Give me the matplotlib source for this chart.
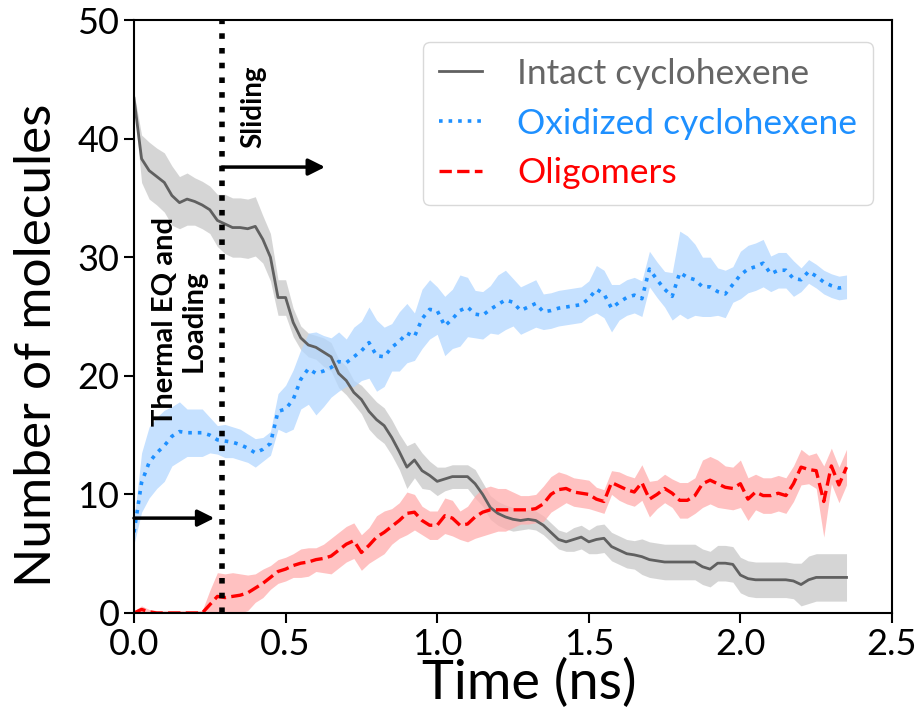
import numpy as np
import matplotlib
matplotlib.use("Agg")
import matplotlib.pyplot as plt

plt.rcParams['font.family'] = ['Lato', 'DejaVu Sans']

# time axis, ns (sampled every 0.025 ns)
time_ns = np.linspace(0.0, 2.35, 95)

intact = [43.4, 38.3, 37.3, 36.8, 36.3, 35.2, 34.6, 34.9, 34.7, 34.4,
          34.0, 33.1, 32.8, 32.5, 32.5, 32.4, 32.6, 31.5, 30.0, 26.6,
          26.6, 24.5, 23.2, 22.6, 22.4, 22.0, 21.6, 20.2, 19.6, 18.6,
          18.0, 17.0, 16.3, 15.8, 14.8, 13.6, 12.3, 12.9, 12.0, 11.6,
          11.1, 11.3, 11.5, 11.5, 11.5, 10.9, 10.0, 8.9, 8.4, 8.1,
          7.9, 7.8, 7.9, 7.8, 7.4, 6.8, 6.2, 6.0, 6.2, 6.4,
          6.0, 6.2, 6.3, 5.6, 5.3, 5.0, 4.9, 4.75, 4.5, 4.4,
          4.3, 4.3, 4.3, 4.3, 4.3, 3.9, 3.7, 4.2, 4.2, 4.1,
          3.2, 2.9, 2.8, 2.8, 2.8, 2.8, 2.8, 2.7, 2.4, 2.8,
          3.0, 3.0, 3.0, 3.0, 3.0]
intact_sd = [0.5, 2.0, 2.4, 2.4, 2.5, 2.5, 2.2, 2.2, 2.0, 2.0,
             2.0, 2.2, 2.5, 2.5, 2.5, 2.5, 2.5, 2.0, 2.0, 1.5,
             1.5, 1.2, 1.0, 1.0, 1.0, 1.2, 1.2, 1.2, 1.2, 1.0,
             1.2, 1.5, 1.5, 1.5, 1.5, 1.5, 1.8, 1.5, 1.5, 1.2,
             1.2, 1.0, 1.0, 1.0, 1.0, 1.2, 1.0, 1.0, 1.0, 1.0,
             1.0, 0.8, 0.8, 0.8, 0.8, 0.8, 0.8, 0.8, 1.0, 1.0,
             1.0, 1.2, 1.2, 1.2, 1.2, 1.2, 1.2, 1.5, 1.5, 1.5,
             1.5, 1.5, 1.5, 1.5, 1.5, 1.5, 1.5, 1.5, 1.5, 1.5,
             1.5, 1.5, 1.5, 1.5, 1.5, 1.5, 1.5, 1.5, 1.8, 2.0,
             2.0, 2.0, 2.0, 2.0, 2.0]

oxidized = [6.8, 11.0, 12.7, 13.5, 14.1, 14.9, 15.3, 15.2, 15.2, 15.2,
            15.0, 14.6, 14.5, 14.4, 14.2, 13.9, 13.5, 13.8, 14.3, 17.0,
            17.2, 18.0, 19.7, 20.6, 20.2, 20.4, 20.7, 21.2, 21.1, 21.6,
            22.1, 22.8, 21.7, 21.6, 22.4, 22.9, 23.6, 23.3, 24.8, 25.6,
            25.5, 24.2, 24.8, 25.5, 25.8, 25.2, 25.1, 25.6, 26.0, 26.4,
            26.2, 25.5, 25.8, 26.1, 25.4, 25.5, 25.7, 25.8, 25.9, 26.0,
            26.5, 27.3, 26.9, 25.7, 26.2, 26.6, 26.8, 26.5, 29.0, 28.1,
            27.3, 26.7, 28.7, 28.3, 28.1, 27.5, 27.5, 27.1, 26.9, 27.7,
            28.5, 29.0, 29.2, 29.5, 28.6, 28.9, 28.9, 28.2, 28.1, 28.8,
            28.4, 27.9, 27.6, 27.4, 27.5]
oxidized_sd = [1.0, 2.5, 3.0, 3.0, 3.0, 2.5, 2.5, 2.0, 2.0, 2.0,
               1.5, 1.2, 1.4, 1.3, 1.3, 1.2, 1.2, 1.0, 1.0, 1.5,
               2.0, 2.5, 2.5, 3.0, 3.5, 3.0, 2.5, 2.5, 2.0, 2.5,
               2.5, 3.0, 3.0, 2.5, 2.0, 2.5, 2.5, 2.0, 2.5, 2.5,
               2.0, 2.5, 2.5, 3.0, 2.5, 2.0, 2.0, 2.0, 2.5, 2.5,
               2.0, 2.0, 2.0, 2.0, 1.5, 1.5, 1.5, 1.5, 1.5, 1.5,
               1.5, 2.0, 2.0, 2.0, 1.5, 1.5, 1.5, 1.5, 1.5, 1.5,
               1.5, 2.0, 3.5, 3.5, 3.0, 2.5, 2.5, 2.0, 2.0, 1.5,
               2.0, 2.0, 2.0, 2.0, 1.5, 1.5, 1.5, 1.5, 1.0, 1.0,
               1.0, 1.0, 1.0, 1.0, 1.0]

oligomers = [0.0, 0.3, 0.1, 0.0, 0.0, 0.0, 0.0, 0.0, 0.0, 0.0,
             0.7, 1.4, 1.3, 1.4, 1.5, 1.7, 2.1, 2.5, 3.0, 3.5,
             3.7, 4.0, 4.2, 4.3, 4.5, 4.6, 4.8, 5.3, 5.8, 6.1,
             5.1, 5.7, 6.4, 6.8, 7.3, 7.8, 8.4, 8.5, 7.8, 7.4,
             7.4, 8.2, 8.0, 7.4, 7.5, 8.1, 8.5, 8.7, 8.7, 8.7,
             8.7, 8.7, 8.7, 8.8, 9.2, 10.0, 10.4, 10.5, 10.2, 10.1,
             10.0, 9.6, 9.4, 11.0, 10.7, 10.4, 10.2, 11.0, 9.6, 10.0,
             10.5, 10.1, 9.5, 9.5, 9.9, 10.9, 11.2, 10.9, 10.6, 10.5,
             10.9, 9.6, 10.2, 9.9, 9.9, 10.1, 9.9, 10.9, 12.3, 12.1,
             12.0, 9.4, 12.4, 10.8, 12.3]
oligomers_sd = [0.2, 0.3, 0.2, 0.2, 0.2, 0.2, 0.2, 0.2, 0.2, 0.2,
                1.2, 2.0, 2.0, 2.0, 1.8, 1.5, 1.2, 1.2, 1.0, 1.0,
                1.0, 1.0, 1.2, 1.2, 1.0, 1.2, 1.5, 1.5, 1.5, 1.5,
                1.5, 1.5, 1.8, 1.8, 1.5, 1.5, 1.8, 1.5, 1.2, 1.2,
                1.2, 1.5, 1.5, 1.2, 1.5, 1.8, 2.0, 2.0, 1.8, 1.8,
                1.5, 1.2, 1.2, 1.2, 1.5, 1.5, 1.5, 1.2, 1.2, 1.2,
                1.2, 1.0, 1.0, 1.0, 1.2, 1.2, 1.2, 1.5, 1.5, 1.2,
                1.2, 1.2, 1.5, 1.5, 1.5, 2.0, 2.0, 2.0, 1.8, 1.8,
                2.0, 1.8, 1.5, 1.5, 1.5, 1.5, 1.5, 1.5, 1.5, 1.2,
                1.5, 3.0, 1.5, 1.5, 1.5]

labels = ['Intact cyclohexene', 'Oxidized cyclohexene', 'Oligomers']
line_colors = ['#606060', '#1e90ff', '#ff0000']
text_colors = ['#666666', '#1e90ff', '#ff0000']
band_colors = ['#c8c8c8', '#b3d7ff', '#ffadad']
styles = ['-', ':', '--']
widths = [2.0, 2.6, 2.4]

loading_end = 0.29

fig = plt.figure(figsize=(9.2, 7.15), dpi=100)
ax = fig.add_axes([134 / 920, 1 - 613 / 715, 758 / 920, 593 / 715])

series = [(intact, intact_sd), (oxidized, oxidized_sd), (oligomers, oligomers_sd)]
for (mean, sd), lab, lc, bc, ls, lw in zip(series, labels, line_colors,
                                          band_colors, styles, widths):
    mean = np.array(mean)
    sd = np.array(sd)
    lo = np.clip(mean - sd, 0, None)
    ax.fill_between(time_ns, lo, mean + sd, color=bc, alpha=0.75, lw=0)
    ax.plot(time_ns, mean, ls, color=lc, lw=lw, label=lab)

ax.axvline(loading_end, color='black', ls=':', lw=4)

arrow = dict(arrowstyle='-|>', color='black', lw=2.5, mutation_scale=25,
             shrinkA=0, shrinkB=0)
ax.annotate('', xy=(0.265, 8.0), xytext=(0.0, 8.0), arrowprops=arrow)
ax.annotate('', xy=(0.63, 37.6), xytext=(loading_end, 37.6), arrowprops=arrow)

ax.text(0.392, 42.7, 'Sliding', rotation=90, fontsize=20, fontweight='bold',
        ha='center', va='center')
ax.text(0.15, 24.6, 'Thermal EQ and\nLoading', rotation=90, fontsize=21,
        fontweight='bold', ha='center', va='center', multialignment='center',
        linespacing=1.1)

ax.set_xlim(0, 2.5)
ax.set_ylim(0, 50)
ax.set_xticks([0.0, 0.5, 1.0, 1.5, 2.0, 2.5])
ax.set_xticklabels(['0.0', '0.5', '1.0', '1.5', '2.0', '2.5'])
ax.set_yticks([0, 10, 20, 30, 40, 50])
ax.tick_params(labelsize=26, width=1.5, length=7)
for s in ax.spines.values():
    s.set_linewidth(1.5)
ax.set_xlabel('Time (ns)', fontsize=39, labelpad=0)
ax.set_ylabel('Number of molecules', fontsize=37)
ax.xaxis.set_label_coords(0.522, -0.075)
ax.yaxis.set_label_coords(-0.097, 0.452)

leg = ax.legend(loc='upper right', fontsize=25.5, frameon=True, fancybox=True,
                edgecolor='#d0d0d0', handlelength=1.2, handletextpad=1.0,
                borderpad=0.45, labelspacing=0.5, borderaxespad=0,
                bbox_to_anchor=(0.975, 0.963))
for txt, c in zip(leg.get_texts(), text_colors):
    txt.set_color(c)

fig.savefig('out.png', dpi=100)
